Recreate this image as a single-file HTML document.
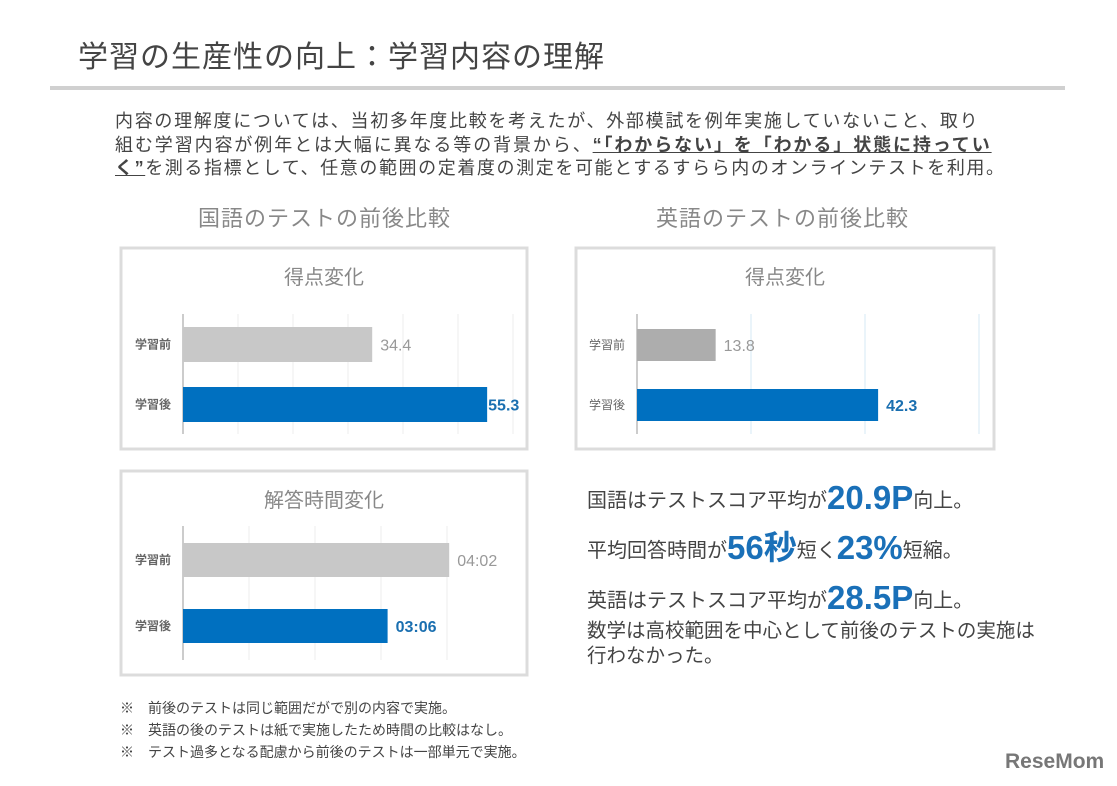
<!DOCTYPE html>
<html><head><meta charset="utf-8"><style>
body{margin:0;background:#fff;width:1117px;height:786px;overflow:hidden;font-family:"Liberation Sans","Noto Sans CJK JP",sans-serif}
.t{position:absolute;white-space:nowrap;color:#444}
.s{line-height:36px;font-size:20px}
.s b{font-size:33px;color:#1a70b8;vertical-align:-2px}
</style></head><body>
<div class="t" style="left:78px;top:32px;font-size:30px;letter-spacing:1px;color:#444">学習の生産性の向上：学習内容の理解</div>
<div style="position:absolute;left:50px;top:86px;width:1015px;height:4px;background:#d0d0d0"></div>
<div class="t" style="left:115px;top:107px;font-size:18px;letter-spacing:1.7px">内容の理解度については、当初多年度比較を考えたが、外部模試を例年実施していないこと、取り</div>
<div class="t" style="left:115px;top:131px;font-size:18px;letter-spacing:1.9px">組む学習内容が例年とは大幅に異なる等の背景から、<b style="text-decoration:underline">“「わからない」を「わかる」状態に持ってい</b></div>
<div class="t" style="left:115px;top:154px;font-size:18px;letter-spacing:1.6px"><b style="text-decoration:underline">く”</b>を測る指標として、任意の範囲の定着度の測定を可能とするすらら内のオンラインテストを利用。</div>
<div class="t" style="left:198px;top:201px;font-size:22px;letter-spacing:1px;color:#888">国語のテストの前後比較</div>
<div class="t" style="left:656px;top:201px;font-size:22px;letter-spacing:1px;color:#888">英語のテストの前後比較</div>

<svg width="1117" height="786" style="position:absolute;left:0;top:0" id="svg" font-family="Liberation Sans, Noto Sans CJK JP, sans-serif"></svg>

<div class="t s" style="left:587px;top:480px">国語はテストスコア平均が<b>20.9P</b>向上。</div>
<div class="t s" style="left:587px;top:530px">平均回答時間が<b>56秒</b>短く<b>23%</b>短縮。</div>
<div class="t s" style="left:587px;top:580px">英語はテストスコア平均が<b>28.5P</b>向上。</div>
<div class="t" style="left:587px;top:619px;font-size:19.5px;line-height:25px">数学は高校範囲を中心として前後のテストの実施は<br>行わなかった。</div>

<div class="t" style="left:120px;top:698px;font-size:14px">※　前後のテストは同じ範囲だがで別の内容で実施。</div>
<div class="t" style="left:120px;top:720px;font-size:14px">※　英語の後のテストは紙で実施したため時間の比較はなし。</div>
<div class="t" style="left:120px;top:742px;font-size:14px">※　テスト過多となる配慮から前後のテストは一部単元で実施。</div>
<div class="t" style="left:1005px;top:750px;font-size:21px;font-weight:bold;color:#777">ReseMom</div>

<script>
const cats=["学習前","学習後"];
const jpScore=[34.4,55.3];
const jpScoreLabels=["34.4","55.3"];
const enScore=[13.8,42.3];
const enScoreLabels=["13.8","42.3"];
const jpTime=[242,186];
const jpTimeLabels=["04:02","03:06"];
const NS="http://www.w3.org/2000/svg";
const svg=document.getElementById('svg');
function el(tag,attrs,parent){const e=document.createElementNS(NS,tag);for(const k in attrs)e.setAttribute(k,attrs[k]);(parent||svg).appendChild(e);return e;}
function chart(o){
  const g=el('g',{});
  
  
  const box=el('rect',{x:o.bx,y:o.by,width:o.bw,height:o.bh,fill:'#fff',stroke:'#dcdcdc','stroke-width':3},g);
  
  
  const t=el('text',{x:o.bx+o.bw/2,y:o.by+36,'text-anchor':'middle','font-size':20,fill:'#888'},g);
  t.textContent=o.title;
  
  
  const sx=v=>o.x0+v*o.k;
  for(let v=0;v<=o.max;v+=o.step){
    const gl=el('line',{x1:sx(v),x2:sx(v),y1:o.py0,y2:o.py1,stroke:v===0?'#ccc':o.grid,'stroke-width':v===0?2:1},g);
    
    
  }
  o.vals.forEach((v,i)=>{
    const y=o.barY[i];
    const r=el('rect',{x:o.x0,y:y,width:v*o.k,height:o.bhgt,fill:i?'#0070c0':o.grey},g);
    
    
    const c=el('text',{x:o.x0-12,y:y+o.bhgt/2+4,'text-anchor':'end','font-size':12,'font-weight':o.boldCat?'bold':'normal',fill:'#666'},g);
    c.textContent=cats[i];
    
    
    const lb=el('text',{x:sx(v)+(i&&o.tight?1:8),y:y+o.bhgt/2+6,'font-size':16,'font-weight':i?'bold':'normal',fill:i?'#1a6fb0':'#999'},g);
    lb.textContent=o.labels[i];
    
    
  });
}
chart({name:'japanese-score-chart',title:'得点変化',bx:121,by:248,bw:406,bh:201,x0:183,k:5.5,max:60,step:10,py0:314,py1:434,barY:[327,387],bhgt:35,vals:jpScore,labels:jpScoreLabels,grid:'#eee',grey:'#c8c8c8',boldCat:true,tight:true});
chart({name:'english-score-chart',title:'得点変化',bx:576,by:248,bw:418,bh:201,x0:637,k:5.7,max:60,step:20,py0:314,py1:434,barY:[329,389],bhgt:32,vals:enScore,labels:enScoreLabels,grid:'#d6e8f5',grey:'#adadad',boldCat:false,tight:false});
chart({name:'japanese-time-chart',title:'解答時間変化',bx:121,by:471,bw:406,bh:204,x0:183,k:1.1,max:240,step:60,py0:526,py1:660,barY:[543,609],bhgt:34,vals:jpTime,labels:jpTimeLabels,grid:'#eee',grey:'#c8c8c8',boldCat:true,tight:false});
</script>
</body></html>
